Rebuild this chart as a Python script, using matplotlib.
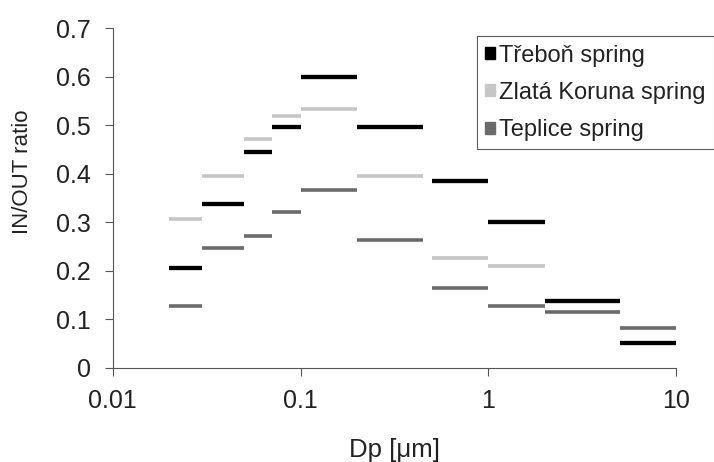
import numpy as np
import matplotlib
matplotlib.use('Agg')
import matplotlib.pyplot as plt
from matplotlib.patches import Patch

plt.rcParams['font.family'] = ['Liberation Sans', 'DejaVu Sans']

# size bins (um)
bin_lo = [0.02, 0.03, 0.05, 0.07, 0.1, 0.2, 0.5, 1, 2, 5]
bin_hi = [0.03, 0.05, 0.07, 0.1, 0.2, 0.45, 1, 2, 5, 10]

trebon = [0.206, 0.338, 0.445, 0.496, 0.600, 0.496, 0.385, 0.300, 0.138, 0.052]
zlata = [0.306, 0.396, 0.471, 0.519, 0.533, 0.396, 0.227, 0.210, np.nan, np.nan]
teplice = [0.127, 0.247, 0.272, 0.321, 0.366, 0.263, 0.165, 0.128, 0.115, 0.081]

names = ['Třeboň spring', 'Zlatá Koruna spring', 'Teplice spring']
colors = ['#000000', '#c6c6c6', '#6a6a6a']

fig = plt.figure(figsize=(7.14, 4.62), dpi=100)
ax = fig.add_axes([0.158, 0.204, 0.789, 0.735])

for vals, c, w in zip([zlata, teplice, trebon], [colors[1], colors[2], colors[0]], [2.6, 2.6, 3.1]):
    v = np.array(vals)
    ok = ~np.isnan(v)
    ax.hlines(v[ok], np.array(bin_lo)[ok], np.array(bin_hi)[ok], colors=c, linewidth=w)

ax.set_xscale('log')
ax.set_xlim(0.01, 10)
ax.set_ylim(0, 0.7)
ax.set_xticks([0.01, 0.1, 1, 10])
ax.set_xticklabels(['0.01', '0.1', '1', '10'])
ax.xaxis.set_minor_locator(plt.NullLocator())
ax.set_yticks(np.arange(0, 0.71, 0.1))
ax.set_yticklabels(['0', '0.1', '0.2', '0.3', '0.4', '0.5', '0.6', '0.7'])
ax.tick_params(labelsize=18, length=6, width=0.8, color='#555555', labelcolor='#222222')
ax.tick_params(axis='x', pad=9)
ax.tick_params(axis='y', pad=10)
for s in ['top', 'right']:
    ax.spines[s].set_visible(False)
for s in ['left', 'bottom']:
    ax.spines[s].set_color('#555555')

ax.set_xlabel('Dp [\u03bcm]', fontsize=18.5, labelpad=18, color='#222222')
ax.set_ylabel('IN/OUT ratio', fontsize=16, color='#222222')
ax.yaxis.set_label_coords(-0.142, 0.578)

handles = [Patch(facecolor=c, edgecolor=c) for c in colors]
leg = fig.legend(handles, names, loc='upper left', bbox_to_anchor=(0.668, 0.921),
                 fontsize=17, frameon=True, fancybox=False, edgecolor='#333333',
                 handlelength=0.4, handleheight=0.4, handletextpad=0.2,
                 labelspacing=0.64, borderpad=0.35, borderaxespad=0)
leg.get_frame().set_linewidth(0.8)
for t in leg.get_texts():
    t.set_color('#222222')

fig.savefig('out.png', dpi=100)
